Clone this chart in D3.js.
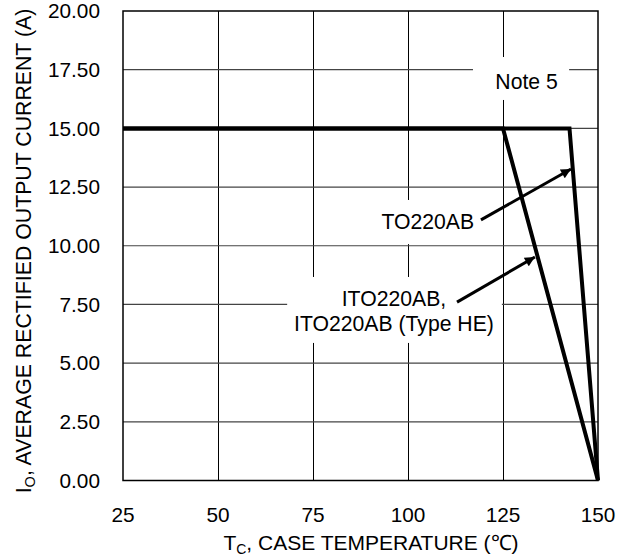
<!DOCTYPE html>
<html>
<head>
<meta charset="utf-8">
<script src="https://cdn.jsdelivr.net/npm/d3@7"></script>
<style>
html,body{margin:0;padding:0;background:#fff;}
text{font-family:"Liberation Sans",Arial,sans-serif;fill:#000;}
</style>
</head>
<body>
<svg id="chart" width="631" height="556"></svg>
<script>
// ---- data ----
const xTicks = [25, 50, 75, 100, 125, 150];
const yTicks = [0, 2.5, 5, 7.5, 10, 12.5, 15, 17.5, 20];
const to220ab = [[25, 15], [142.5, 15], [150, 0]];
const ito220ab = [[25, 15], [125, 15], [150, 0]];
const labelTO = "TO220AB";
const labelITO = ["ITO220AB,", "ITO220AB (Type HE)"];
const labelNote = "Note 5";
const xTitle = "CASE TEMPERATURE (\u2103)";
const yTitle = ", AVERAGE RECTIFIED OUTPUT CURRENT (A)";

// ---- layout ----
const W = 631, H = 556;
const m = {left: 123, right: 33, top: 11, bottom: 75.5};
const svg = d3.select("#chart");
const x = d3.scaleLinear().domain([25, 150]).range([m.left, W - m.right]);
const y = d3.scaleLinear().domain([0, 20]).range([H - m.bottom, m.top]);
const FS = 20.8;

// grid
const g = svg.append("g");
g.selectAll("line.v").data(xTicks.slice(1, -1)).join("line")
  .attr("x1", d => Math.round(x(d)) + 0.5).attr("x2", d => Math.round(x(d)) + 0.5)
  .attr("y1", y(20)).attr("y2", y(0))
  .attr("stroke", "#000").attr("stroke-width", 1);
g.selectAll("line.h").data(yTicks.slice(1, -1)).join("line")
  .attr("x1", x(25)).attr("x2", x(150))
  .attr("y1", d => y(d)).attr("y2", d => y(d))
  .attr("stroke", "#444").attr("stroke-width", 1.2);

// white label boxes (data coords)
const boxes = [
  [117.1, 142.4, 18.04, 16.21],
  [88.7, 121.6, 11.95, 10.07],
  [68.2, 124.7, 8.67, 5.86]
];
svg.selectAll("rect.box").data(boxes).join("rect")
  .attr("x", d => x(d[0])).attr("width", d => x(d[1]) - x(d[0]))
  .attr("y", d => y(d[2])).attr("height", d => y(d[3]) - y(d[2]))
  .attr("fill", "#fff");

// curves
const line = d3.line().x(d => x(d[0])).y(d => y(d[1]));
[ito220ab, to220ab].forEach(s => {
  svg.append("path").attr("d", line(s)).attr("fill", "none")
    .attr("stroke", "#000").attr("stroke-width", 4).attr("stroke-linejoin", "miter");
});

// arrows
svg.append("defs").append("marker").attr("id", "ah")
  .attr("viewBox", "0 0 10 10").attr("refX", 10).attr("refY", 5)
  .attr("markerUnits", "userSpaceOnUse")
  .attr("markerWidth", 13).attr("markerHeight", 10).attr("orient", "auto")
  .append("path").attr("d", "M0,0 L10,5 L0,10 Z").attr("fill", "#000");
const arrows = [
  [[119.2, 11.10], [142.9, 13.27]],
  [[112.9, 7.60], [133.4, 9.52]]
];
svg.selectAll("line.arrow").data(arrows).join("line")
  .attr("x1", d => x(d[0][0])).attr("y1", d => y(d[0][1]))
  .attr("x2", d => x(d[1][0])).attr("y2", d => y(d[1][1]))
  .attr("stroke", "#000").attr("stroke-width", 3).attr("marker-end", "url(#ah)");

// annotation texts
svg.append("text").attr("x", x(131.2)).attr("y", y(16.66)).attr("text-anchor", "middle")
  .attr("font-size", 21.2).text(labelNote);
svg.append("text").attr("x", x(117.4)).attr("y", y(10.71)).attr("text-anchor", "end")
  .attr("font-size", 21.2).text(labelTO);
svg.append("text").attr("x", x(96.3)).attr("y", y(7.43)).attr("text-anchor", "middle")
  .attr("font-size", 21.2).text(labelITO[0]);
svg.append("text").attr("x", x(96.3)).attr("y", y(6.37)).attr("text-anchor", "middle")
  .attr("font-size", 21.2).text(labelITO[1]);

// frame
svg.append("rect").attr("x", x(25)).attr("y", y(20))
  .attr("width", x(150) - x(25)).attr("height", y(0) - y(20))
  .attr("fill", "none").attr("stroke", "#000").attr("stroke-width", 1.5);

// tick labels
svg.selectAll("text.yt").data(yTicks).join("text")
  .attr("x", m.left - 23).attr("y", d => y(d) + 7.3)
  .attr("text-anchor", "end").attr("font-size", FS)
  .text(d => d3.format(".2f")(d));
svg.selectAll("text.xt").data(xTicks).join("text")
  .attr("x", d => x(d)).attr("y", y(0) + 41.5)
  .attr("text-anchor", "middle").attr("font-size", FS)
  .text(d => d);

// axis titles
const xt = svg.append("text").attr("x", 371).attr("y", 550)
  .attr("text-anchor", "middle").attr("font-size", 21);
xt.append("tspan").text("T");
xt.append("tspan").attr("font-size", 14).attr("dy", 4).text("C");
xt.append("tspan").attr("dy", -4).text(", " + xTitle);

const yt = svg.append("text").attr("transform", "translate(31,251) rotate(-90)")
  .attr("text-anchor", "middle").attr("font-size", 21.3);
yt.append("tspan").text("I");
yt.append("tspan").attr("font-size", 14.5).attr("dy", 4).text("O");
yt.append("tspan").attr("dy", -4).text(yTitle);
</script>
</body>
</html>
